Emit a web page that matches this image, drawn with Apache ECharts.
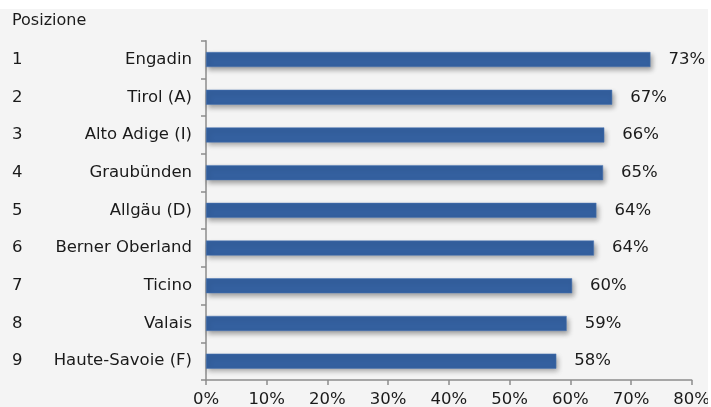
<!DOCTYPE html>
<html>
<head>
<meta charset="utf-8">
<script src="https://cdn.jsdelivr.net/npm/echarts@6/dist/echarts.min.js"></script>
<style>
html,body{margin:0;padding:0;background:#ffffff;}
#chart{position:absolute;left:0;top:9px;width:708px;height:398px;background:#f4f4f4;}
</style>
</head>
<body>
<div id="chart"></div>
<script>
const categories = ['Engadin','Tirol (A)','Alto Adige (I)','Graubünden','Allgäu (D)','Berner Oberland','Ticino','Valais','Haute-Savoie (F)'];
const ranks = ['1','2','3','4','5','6','7','8','9'];
const values = [73.2, 66.9, 65.6, 65.4, 64.3, 63.9, 60.3, 59.4, 57.7];
const valueLabels = ['73%','67%','66%','65%','64%','64%','60%','59%','58%'];
const xTicks = [0,10,20,30,40,50,60,70,80];

const font = 'DejaVu Sans, Verdana, sans-serif';
const fs = 16.5;
const chart = echarts.init(document.getElementById('chart'), null, {renderer:'canvas'});
chart.setOption({
  backgroundColor: '#f4f4f4',
  animation: false,
  title: {
    text: 'Posizione', left: 12, top: 4, padding: 0,
    textStyle: {fontFamily: font, fontSize: 16, fontWeight: 'normal', color: '#1a1a1a'}
  },
  grid: {left: 206, right: 16.3, top: 31.7, bottom: 27, containLabel: false, outerBoundsMode: 'none'},
  xAxis: {
    type: 'value', min: xTicks[0], max: xTicks[xTicks.length-1], interval: 10,
    axisLine: {show: true, lineStyle: {color: '#8c8c8c', width: 1.5}},
    axisTick: {show: true, length: 5, lineStyle: {color: '#8c8c8c', width: 1.5}},
    splitLine: {show: false},
    axisLabel: {formatter: v => v + '%', fontFamily: font, fontSize: fs, color: '#1a1a1a', margin: 11}
  },
  yAxis: [{
    type: 'category', data: categories, inverse: true,
    axisLine: {show: true, lineStyle: {color: '#8c8c8c', width: 1.5}},
    axisTick: {show: true, length: 5, lineStyle: {color: '#8c8c8c', width: 1.5}},
    axisLabel: {fontFamily: font, fontSize: fs, color: '#1a1a1a', margin: 14}
  },{
    type: 'category', data: ranks, inverse: true, position: 'left',
    axisLine: {show: false}, axisTick: {show: false},
    axisLabel: {fontFamily: font, fontSize: fs, color: '#1a1a1a', align: 'left', margin: 194}
  }],
  series: [{
    type: 'bar', data: values, barWidth: 15, yAxisIndex: 0,
    itemStyle: {
      color: '#34609f', borderColor: '#4a76b4', borderWidth: 0.5,
      shadowColor: 'rgba(0,0,0,0.35)', shadowBlur: 5, shadowOffsetX: 2, shadowOffsetY: 3
    },
    label: {
      show: true, position: 'right', distance: 18,
      formatter: p => valueLabels[p.dataIndex],
      fontFamily: font, fontSize: fs, color: '#1a1a1a'
    }
  }]
});
</script>
</body>
</html>
